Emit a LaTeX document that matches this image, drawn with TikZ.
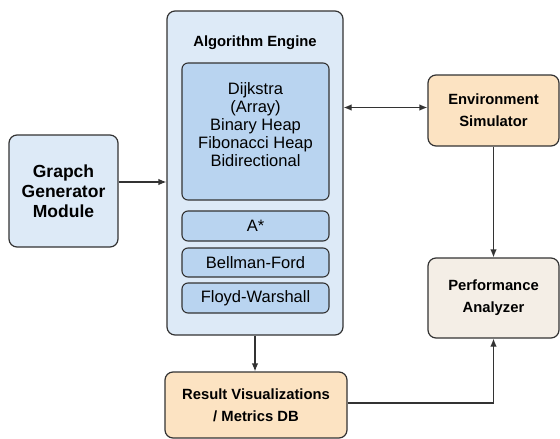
\documentclass[tikz,border=0pt]{standalone}
\usepackage{fontspec}
\setmainfont{Liberation Sans}
\usepackage{xcolor}
\usetikzlibrary{arrows.meta,positioning}

\definecolor{modblue}{HTML}{DDEAF7}
\definecolor{algblue}{HTML}{B9D4F0}
\definecolor{resorange}{HTML}{FCE3C2}
\definecolor{perfbeige}{HTML}{F4EEE6}
\definecolor{edge}{HTML}{333333}

\begin{document}
\begin{tikzpicture}[x=1pt,y=-1pt,every node/.style={font=\fontsize{16.5}{18}\selectfont},
  box/.style={draw=edge,line width=1.2pt,rounded corners=8pt,align=center,inner sep=0pt},
  algbox/.style={draw=edge,line width=1.1pt,rounded corners=6pt,fill=algblue,align=center,inner sep=0pt,minimum width=147pt},
  bold/.style={font=\fontsize{14.8}{22}\selectfont\bfseries},
  arr/.style={-{Latex[length=8pt,width=6.5pt]},draw=edge,line width=1.2pt}]
  \useasboundingbox (0,0) rectangle (560,439);
  \node[box,fill=modblue,minimum width=176pt,minimum height=324pt] (engine) at (255,173) {};
  \node[bold] (title) at (255,43) {Algorithm Engine};
  \node[algbox,minimum height=137pt] (dijk) at (255.5,131.5) {Dijkstra\\(Array)\\Binary Heap\\Fibonacci Heap\\Bidirectional\\[-4pt]\mbox{}};
  \node[algbox,minimum height=30pt] (astar) at (255.5,226) {A*};
  \node[algbox,minimum height=29pt] (bell) at (255.5,262.5) {Bellman-Ford};
  \node[algbox,minimum height=30pt] (floyd) at (255.5,298) {Floyd-Warshall};
  \node[box,bold,font=\fontsize{17.5}{20}\selectfont\bfseries,fill=modblue,minimum width=109pt,minimum height=112pt] (gen) at (63.5,191) {Grapch\\Generator\\Module};
  \node[box,bold,fill=resorange,minimum width=131pt,minimum height=71pt] (env) at (493.5,110.5) {Environment\\Simulator};
  \node[box,bold,fill=perfbeige,minimum width=131pt,minimum height=80pt] (perf) at (493.5,298) {Performance\\Analyzer};
  \node[box,bold,fill=resorange,minimum width=182pt,minimum height=66pt] (res) at (256,405) {Result Visualizations\\/ Metrics DB};
  \draw[arr] ([yshift=9pt]gen.east) -- ([yshift=9pt]gen.east -| engine.west);
  \draw[arr,{Latex[length=8pt,width=6.5pt]}-{Latex[length=8pt,width=6.5pt]}] ([yshift=3pt]env.west -| engine.east) -- ([yshift=3pt]env.west);
  \draw[arr] (env.south) -- (perf.north);
  \draw[arr] (engine.south) -- (engine.south |- res.north);
  \draw[arr] ([yshift=2pt]res.east) -| (perf.south);
\end{tikzpicture}
\end{document}
